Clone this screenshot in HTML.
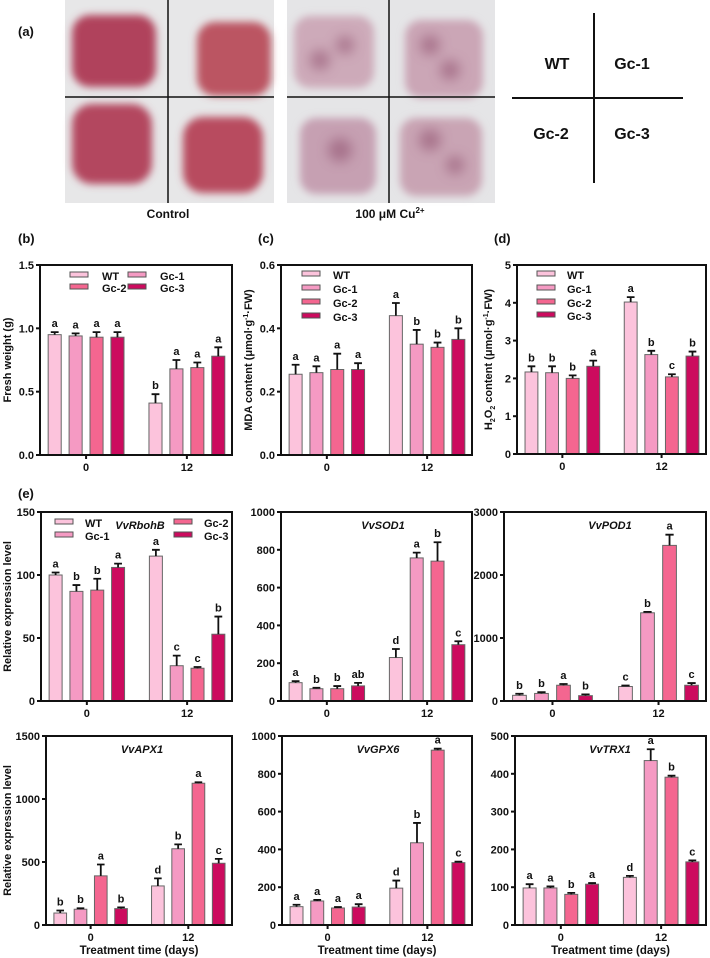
<!DOCTYPE html>
<html><head><meta charset="utf-8">
<style>
html,body{margin:0;padding:0;background:#fff;}
svg{display:block;font-family:"Liberation Sans",Arial,sans-serif;font-size:11px;}
.t{font-weight:bold;fill:#111;}
</style></head>
<body>
<svg id="fig" width="710" height="958" viewBox="0 0 710 958" xmlns="http://www.w3.org/2000/svg">
<defs>
<filter id="blur" x="-20%" y="-20%" width="140%" height="140%"><feGaussianBlur stdDeviation="4"/></filter>
<filter id="blur2" x="-50%" y="-50%" width="200%" height="200%"><feGaussianBlur stdDeviation="6"/></filter>
</defs>
<text x="18" y="36" class="t" font-size="13">(a)</text>
<g>
<rect x="65" y="0" width="209" height="203" fill="#e7e7e8"/>
<g filter="url(#blur)">
<rect x="72" y="15" width="84" height="72" rx="18" fill="#b0435c"/>
<rect x="197" y="22" width="74" height="74" rx="18" fill="#bb5562"/>
<rect x="72" y="104" width="80" height="80" rx="20" fill="#b3475e"/>
<rect x="183" y="117" width="80" height="76" rx="20" fill="#b84c5f"/>
</g>
<line x1="168" y1="0" x2="168" y2="203" stroke="#111" stroke-width="1.5"/>
<line x1="65" y1="97" x2="274" y2="97" stroke="#111" stroke-width="1.5"/>
</g>
<g>
<rect x="287" y="0" width="208" height="203" fill="#e5e5e7"/>
<g filter="url(#blur)">
<rect x="294" y="16" width="80" height="72" rx="16" fill="#cdaab9"/>
<rect x="405" y="20" width="78" height="78" rx="16" fill="#cba6b6"/>
<rect x="300" y="118" width="76" height="76" rx="16" fill="#c6a0b2"/>
<rect x="400" y="118" width="82" height="78" rx="16" fill="#c9a4b4"/>
</g>
<g filter="url(#blur2)" fill="#8e4e6c" opacity="0.55">
<circle cx="320" cy="60" r="10"/><circle cx="345" cy="45" r="9"/><circle cx="430" cy="45" r="10"/><circle cx="450" cy="70" r="10"/>
<circle cx="340" cy="150" r="12"/><circle cx="430" cy="140" r="11"/><circle cx="455" cy="165" r="9"/>
</g>
<line x1="389" y1="0" x2="389" y2="203" stroke="#111" stroke-width="1.5"/>
<line x1="287" y1="97" x2="495" y2="97" stroke="#111" stroke-width="1.5"/>
</g>
<text x="168" y="218" text-anchor="middle" class="t" font-size="12">Control</text>
<text x="390" y="218" text-anchor="middle" class="t" font-size="12">100 μM Cu<tspan font-size="8" dy="-5">2+</tspan></text>
<g>
<line x1="594" y1="13" x2="594" y2="183" stroke="#111" stroke-width="2"/>
<line x1="512" y1="98" x2="683" y2="98" stroke="#111" stroke-width="2"/>
<text x="557" y="69" text-anchor="middle" class="t" font-size="16">WT</text>
<text x="632" y="69" text-anchor="middle" class="t" font-size="16">Gc-1</text>
<text x="551" y="139" text-anchor="middle" class="t" font-size="16">Gc-2</text>
<text x="632" y="139" text-anchor="middle" class="t" font-size="16">Gc-3</text>
</g>
<text x="18" y="243" class="t" font-size="13">(b)</text>
<text x="258" y="243" class="t" font-size="13">(c)</text>
<text x="494" y="243" class="t" font-size="13">(d)</text>
<text x="18" y="498" class="t" font-size="13">(e)</text>
</svg>
<script>
const genotypes = ["WT","Gc-1","Gc-2","Gc-3"];
const days = ["0","12"];
const fwDay0 = [0.95,0.94,0.93,0.93], fwErr0 = [0.02,0.02,0.04,0.04], fwLet0 = ["a","a","a","a"];
const fwDay12 = [0.41,0.68,0.69,0.78], fwErr12 = [0.07,0.07,0.04,0.07], fwLet12 = ["b","a","a","a"];
const fwTicks = ["0.0","0.5","1.0","1.5"];
const mdaDay0 = [0.255,0.26,0.27,0.27], mdaErr0 = [0.03,0.02,0.05,0.02], mdaLet0 = ["a","a","a","a"];
const mdaDay12 = [0.44,0.35,0.34,0.365], mdaErr12 = [0.04,0.045,0.015,0.035], mdaLet12 = ["a","b","b","b"];
const mdaTicks = ["0.0","0.2","0.4","0.6"];
const h2o2Day0 = [2.17,2.15,2.0,2.32], h2o2Err0 = [0.15,0.17,0.08,0.15], h2o2Let0 = ["b","b","b","a"];
const h2o2Day12 = [4.02,2.63,2.04,2.59], h2o2Err12 = [0.13,0.1,0.07,0.12], h2o2Let12 = ["a","b","c","b"];
const h2o2Ticks = ["0","1","2","3","4","5"];
const rbohDay0 = [100,87,88,106], rbohErr0 = [2,5,9,3], rbohLet0 = ["a","b","b","a"];
const rbohDay12 = [115,28,26,53], rbohErr12 = [5,8,1,14], rbohLet12 = ["a","c","c","b"];
const rbohTicks = ["0","50","100","150"];
const sodDay0 = [97,65,65,80], sodErr0 = [8,5,14,16], sodLet0 = ["a","b","b","ab"];
const sodDay12 = [230,757,740,298], sodErr12 = [45,28,100,18], sodLet12 = ["d","a","b","c"];
const sodTicks = ["0","200","400","600","800","1000"];
const podDay0 = [90,120,250,85], podErr0 = [25,20,20,20], podLet0 = ["b","b","a","b"];
const podDay12 = [230,1400,2470,250], podErr12 = [15,15,170,35], podLet12 = ["c","b","a","c"];
const podTicks = ["0","1000","2000","3000"];
const apxDay0 = [95,125,390,130], apxErr0 = [20,8,90,10], apxLet0 = ["b","b","a","b"];
const apxDay12 = [310,605,1125,490], apxErr12 = [60,35,8,35], apxLet12 = ["d","b","a","c"];
const apxTicks = ["0","500","1000","1500"];
const gpxDay0 = [97,127,90,95], gpxErr0 = [10,6,5,15], gpxLet0 = ["a","a","a","a"];
const gpxDay12 = [195,435,925,330], gpxErr12 = [40,105,8,5], gpxLet12 = ["d","b","a","c"];
const gpxTicks = ["0","200","400","600","800","1000"];
const trxDay0 = [98,98,81,108], trxErr0 = [10,4,4,3], trxLet0 = ["a","a","b","a"];
const trxDay12 = [126,435,391,167], trxErr12 = [4,30,4,4], trxLet12 = ["d","a","b","c"];
const trxTicks = ["0","100","200","300","400","500"];

const colors = ["#fcc3dc","#f59ac3","#f46690","#cc0b5e"];
const NS = "http://www.w3.org/2000/svg";
const svg = document.getElementById("fig");
function mk(tag, attrs, parent, txt){
  const e = document.createElementNS(NS, tag);
  for (const k in attrs) e.setAttribute(k, attrs[k]);
  if (txt !== undefined) e.textContent = txt;
  (parent||svg).appendChild(e);
  return e;
}

function chart(cfg){
  const g = mk("g", {});
  
  
  const L=cfg.x0, R=cfg.x1, T=cfg.y0, B=cfg.y1, W=R-L;
  const ticks = cfg.ticks.map(Number);
  const vmax = ticks[ticks.length-1];
  const y = v => B - (v/vmax)*(B-T);
  const grpC = [L+0.24*W, L+0.765*W];
  const step = 0.109*W, bw = 0.068*W;
  const xb = (gi,i) => grpC[gi] + (i-1.5)*step;
  const series = [[cfg.d0,cfg.e0,cfg.l0],[cfg.d12,cfg.e12,cfg.l12]];
  series.forEach((s,gi)=>{
    s[0].forEach((v,i)=>{
      const cx = xb(gi,i);
      const bar = mk("rect",{x:cx-bw/2,y:y(v),width:bw,height:B-y(v),fill:colors[i],stroke:"#666","stroke-width":1},g);
      
      
      const top = y(v+s[1][i]);
      const eb = mk("path",{d:`M${cx} ${y(v)}V${top}M${cx-bw*0.3} ${top}H${cx+bw*0.3}`,stroke:"#111","stroke-width":1.8,fill:"none"},g);
      
      
      const lt = mk("text",{x:cx,y:top-5,"text-anchor":"middle",class:"t"},g,s[2][i]);
      
      
    });
  });
  const ax = mk("path",{d:`M${L} ${T}V${B}H${R}V${T}H${L}`,stroke:"#111","stroke-width":2,fill:"none"},g);
  
  
  cfg.ticks.forEach(t=>{
    const yy = y(Number(t));
    mk("line",{x1:L-4,x2:L,y1:yy,y2:yy,stroke:"#111","stroke-width":2},g);
    const tl = mk("text",{x:L-6,y:yy+4,"text-anchor":"end",class:"t"},g,t);
    
    
  });
  days.forEach((d,gi)=>{
    mk("line",{x1:grpC[gi],x2:grpC[gi],y1:B,y2:B+4,stroke:"#111","stroke-width":2},g);
    const xl = mk("text",{x:grpC[gi],y:B+16,"text-anchor":"middle",class:"t"},g,d);
    
    
  });
  if (cfg.ylabel){
    const yl = mk("text",{x:0,y:0,"text-anchor":"middle",class:"t",transform:`translate(${cfg.ylx},${(T+B)/2}) rotate(-90)`},g);
    yl.innerHTML = cfg.ylabel;
    
    
  }
  if (cfg.xlabel){
    const xt = mk("text",{x:(L+R)/2,y:B+29,"text-anchor":"middle",class:"t","font-size":"11.5"},g,"Treatment time (days)");
    
    
  }
  if (cfg.gene){
    const gt = mk("text",{x:cfg.geneX||(L+R)/2,y:T+17,"text-anchor":"middle",class:"t","font-style":"italic"},g,cfg.gene);
    
    
  }
  if (cfg.legend){
    cfg.legend.forEach(([i,sx,sy,tx])=>{
      const le = mk("g",{},g);
      
      
      mk("rect",{x:sx,y:sy-4,width:18,height:5,fill:colors[i],stroke:"#555","stroke-width":1},le);
      mk("text",{x:tx,y:sy+4,class:"t"},le,genotypes[i]);
    });
  }
}

const mu = "(μmol·g<tspan font-size='7' dy='-4'>-1</tspan><tspan dy='4'>·FW)</tspan>";
chart({name:"fresh-weight-chart",x0:40,x1:232,y0:265,y1:455,ticks:fwTicks,d0:fwDay0,e0:fwErr0,l0:fwLet0,d12:fwDay12,e12:fwErr12,l12:fwLet12,
  ylabel:"Fresh weight (g)",ylx:11,legend:[[0,70,276,102],[1,128,276,160],[2,70,288,102],[3,128,288,160]]});
chart({name:"mda-chart",x0:281,x1:472,y0:265,y1:455,ticks:mdaTicks,d0:mdaDay0,e0:mdaErr0,l0:mdaLet0,d12:mdaDay12,e12:mdaErr12,l12:mdaLet12,
  ylabel:"MDA content "+mu,ylx:252,legend:[[0,302,275,333],[1,302,289,333],[2,302,303,333],[3,302,317,333]]});
chart({name:"h2o2-chart",x0:517,x1:706,y0:265,y1:454,ticks:h2o2Ticks,d0:h2o2Day0,e0:h2o2Err0,l0:h2o2Let0,d12:h2o2Day12,e12:h2o2Err12,l12:h2o2Let12,
  ylabel:"H<tspan font-size='7' dy='3'>2</tspan><tspan dy='-3'>O</tspan><tspan font-size='7' dy='3'>2</tspan><tspan dy='-3'> content </tspan>"+mu,ylx:492,
  legend:[[0,537,275,567],[1,537,289,567],[2,537,303,567],[3,537,316,567]]});
chart({name:"vvrbohb-chart",x0:41,x1:232,y0:512,y1:701,ticks:rbohTicks,d0:rbohDay0,e0:rbohErr0,l0:rbohLet0,d12:rbohDay12,e12:rbohErr12,l12:rbohLet12,
  ylabel:"Relative expression level",ylx:11,gene:"VvRbohB",geneX:140,
  legend:[[0,55,523,85],[1,55,536,85],[2,174,523,204],[3,174,536,204]]});
chart({name:"vvsod1-chart",x0:281,x1:472,y0:512,y1:701,ticks:sodTicks,d0:sodDay0,e0:sodErr0,l0:sodLet0,d12:sodDay12,e12:sodErr12,l12:sodLet12,gene:"VvSOD1",geneX:383});
chart({name:"vvpod1-chart",x0:504,x1:706,y0:512,y1:701,ticks:podTicks,d0:podDay0,e0:podErr0,l0:podLet0,d12:podDay12,e12:podErr12,l12:podLet12,gene:"VvPOD1",geneX:610});
chart({name:"vvapx1-chart",x0:46,x1:232,y0:736,y1:925,ticks:apxTicks,d0:apxDay0,e0:apxErr0,l0:apxLet0,d12:apxDay12,e12:apxErr12,l12:apxLet12,
  ylabel:"Relative expression level",ylx:11,gene:"VvAPX1",geneX:142,xlabel:true});
chart({name:"vvgpx6-chart",x0:282,x1:472,y0:736,y1:925,ticks:gpxTicks,d0:gpxDay0,e0:gpxErr0,l0:gpxLet0,d12:gpxDay12,e12:gpxErr12,l12:gpxLet12,gene:"VvGPX6",geneX:378,xlabel:true});
chart({name:"vvtrx1-chart",x0:515,x1:706,y0:736,y1:925,ticks:trxTicks,d0:trxDay0,e0:trxErr0,l0:trxLet0,d12:trxDay12,e12:trxErr12,l12:trxLet12,gene:"VvTRX1",geneX:610,xlabel:true});
</script>
</body></html>
